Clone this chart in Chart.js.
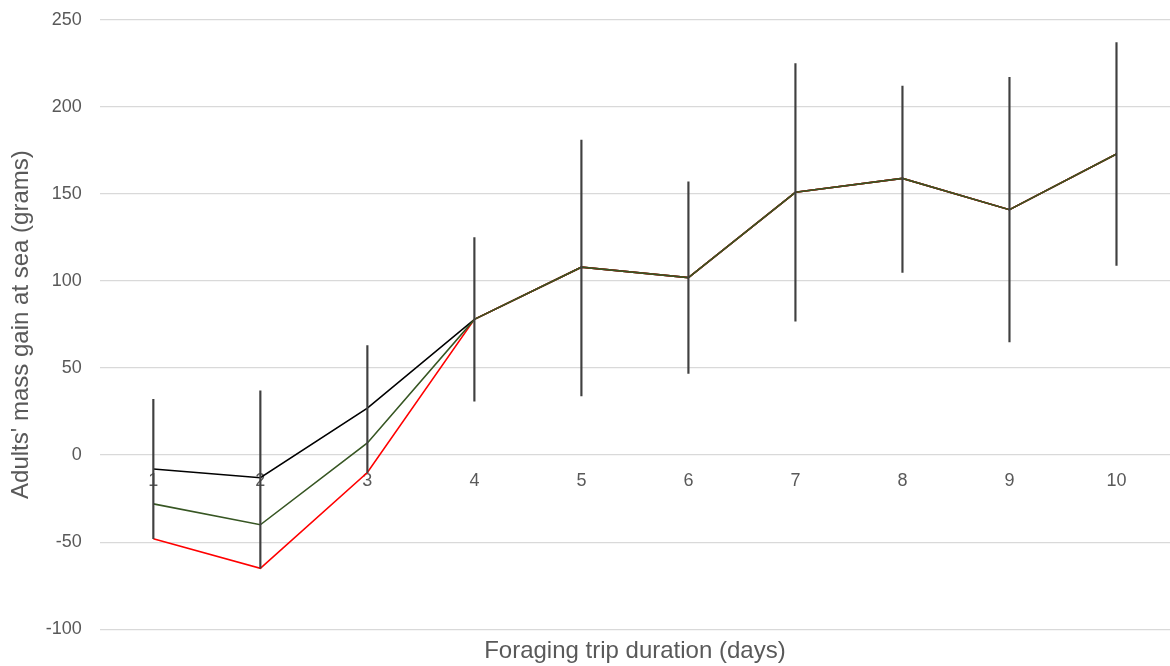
<!DOCTYPE html>
<html>
<head>
<meta charset="utf-8">
<script src="https://cdn.jsdelivr.net/npm/chart.js@4/dist/chart.umd.min.js"></script>
<style>
  html, body { margin: 0; padding: 0; background: #fff; }
  #wrap { width: 1170px; height: 666px; }
</style>
</head>
<body>
<div id="wrap"><canvas id="chart"></canvas></div>
<script>
// trip duration in days
var days = ['1', '2', '3', '4', '5', '6', '7', '8', '9', '10'];

// three estimates of mass gain (g)
var gainBlack = [-8, -13, 27, 78, 108, 102, 151, 159, 141, 173];
var gainGreen = [-28, -40, 7, 78, 108, 102, 151, 159, 141, 173];
var gainRed = [-48, -65, -10, 78, 108, 102, 151, 159, 141, 173];

// error bar ends
var errLow = [-48, -65, -10, 31, 34, 47, 77, 105, 65, 109];
var errHigh = [32, 37, 63, 125, 181, 157, 225, 212, 217, 237];

var yTicks = [-100, -50, 0, 50, 100, 150, 200, 250];

var textColor = '#595959';
var fontFamily = "'Liberation Sans', Arial, sans-serif";

var errBars = days.map(function(d, i) {
  return [errLow[i], errHigh[i]];
});

function lineSet(label, data, color, order) {
  return {
    type: 'line',
    label: label,
    data: data,
    borderColor: color,
    borderWidth: 1.6,
    pointRadius: 0,
    tension: 0,
    fill: false,
    order: order
  };
}

new Chart(document.getElementById('chart').getContext('2d'), {
  data: {
    labels: days,
    datasets: [
      {
        type: 'bar',
        label: 'error',
        data: errBars,
        backgroundColor: '#404040',
        borderWidth: 0,
        barThickness: 1.5,
        order: 0
      },
      lineSet('green', gainGreen, '#375623', 1),
      lineSet('red', gainRed, '#ff0000', 2),
      lineSet('black', gainBlack, '#000000', 3)
    ]
  },
  options: {
    responsive: true,
    maintainAspectRatio: false,
    animation: false,
    layout: { padding: { top: 20, right: 0, left: 7, bottom: 0 } },
    plugins: {
      legend: { display: false },
      tooltip: { enabled: false }
    },
    scales: {
      x: {
        type: 'category',
        position: 'bottom',
        offset: true,
        grid: { display: false },
        border: { display: false },
        ticks: { display: false },
        title: {
          display: true,
          text: 'Foraging trip duration (days)',
          color: textColor,
          font: { family: fontFamily, size: 24 },
          padding: { top: 0, bottom: 0 }
        }
      },
      x2: {
        type: 'category',
        labels: days,
        offset: true,
        position: { y: 0 },
        grid: { display: false },
        border: { display: false },
        ticks: {
          color: textColor,
          font: { family: fontFamily, size: 18 },
          padding: 7
        },
        afterFit: function(scale) {
          scale.height = 0;
          scale.paddingTop = 0;
          scale.paddingBottom = 0;
        }
      },
      y: {
        min: -100,
        max: 250,
        afterBuildTicks: function(scale) {
          scale.ticks = yTicks.map(function(v) { return { value: v }; });
        },
        afterFit: function(scale) {
          scale.width -= 18;
          scale.paddingTop = 0;
        },
        grid: { color: '#d9d9d9', lineWidth: 1.3, drawTicks: false },
        border: { display: false },
        ticks: {
          color: textColor,
          font: { family: fontFamily, size: 18 },
          padding: 18
        },
        title: {
          display: true,
          text: "Adults' mass gain at sea (grams)",
          color: textColor,
          font: { family: fontFamily, size: 24 },
          padding: { top: 0, bottom: 10 }
        }
      }
    }
  }
});
</script>
</body>
</html>
